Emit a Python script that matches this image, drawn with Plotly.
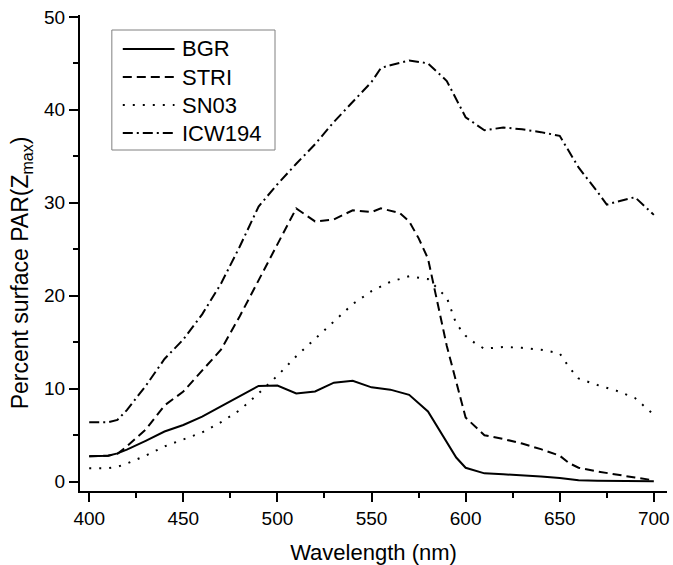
import plotly.graph_objects as go

# Wavelength grids (nm) and percent surface PAR at Z_max for each site
wl_bgr = [400, 410, 415, 420, 430, 440, 450, 460, 470, 480, 490, 500, 510, 520, 530, 540,
          550, 560, 570, 580, 590, 595, 600, 610, 620, 630, 640, 650, 660, 670, 680, 690, 700]
bgr = [2.75, 2.8, 3.05, 3.45, 4.4, 5.4, 6.1, 7.0, 8.1, 9.2, 10.3, 10.35, 9.5, 9.7, 10.65, 10.85,
       10.15, 9.9, 9.35, 7.55, 4.3, 2.6, 1.5, 0.9, 0.8, 0.7, 0.55, 0.4, 0.15, 0.1, 0.08, 0.05, 0.05]

wl_stri = [400, 410, 415, 420, 430, 440, 450, 460, 470, 480, 490, 500, 510, 520, 530, 540,
           550, 555, 565, 570, 575, 580, 590, 600, 605, 610, 620, 630, 640, 650, 655, 660,
           670, 680, 690, 700]
stri = [2.75, 2.8, 3.0, 3.8, 5.6, 8.2, 9.7, 11.9, 14.2, 17.8, 21.7, 25.6, 29.4, 28.0, 28.2, 29.2,
        29.0, 29.4, 28.9, 28.0, 26.2, 24.0, 14.6, 6.9, 5.9, 5.0, 4.6, 4.1, 3.5, 2.8, 2.0, 1.5,
        1.1, 0.75, 0.45, 0.15]

wl_sn03 = [400, 410, 415, 420, 430, 440, 450, 460, 470, 480, 490, 500, 510, 520, 530, 540,
           550, 560, 570, 580, 585, 590, 595, 600, 605, 610, 620, 630, 640, 650, 655, 660,
           670, 680, 690, 700]
sn03 = [1.45, 1.45, 1.6, 1.95, 2.8, 3.8, 4.55, 5.3, 6.4, 7.7, 9.5, 11.4, 13.5, 15.4, 17.3, 19.1,
        20.5, 21.5, 22.1, 21.8, 20.8, 19.8, 17.0, 15.7, 14.9, 14.3, 14.5, 14.4, 14.2, 13.8, 12.3, 11.1,
        10.4, 9.8, 9.0, 7.2]

wl_icw = [400, 410, 415, 420, 430, 440, 450, 460, 470, 480, 490, 500, 510, 520, 530, 540,
          550, 555, 560, 570, 580, 590, 600, 610, 620, 630, 640, 650, 660, 670, 675, 680,
          690, 700]
icw194 = [6.4, 6.4, 6.65, 7.7, 10.3, 13.2, 15.3, 18.0, 21.3, 25.3, 29.6, 32.0, 34.2, 36.3, 38.7, 40.8,
          43.0, 44.5, 44.8, 45.3, 45.0, 43.1, 39.2, 37.8, 38.1, 37.9, 37.6, 37.2, 33.8, 31.2, 29.8, 30.1,
          30.6, 28.7]

site_names = ["BGR", "STRI", "SN03", "ICW194"]
site_wl = [wl_bgr, wl_stri, wl_sn03, wl_icw]
site_par = [bgr, stri, sn03, icw194]
site_dash = ["solid", "9px,5px", "2px,8px", "10px,4px,2px,4px"]

x_ticks = [400, 450, 500, 550, 600, 650, 700]
y_ticks = [0, 10, 20, 30, 40, 50]

font_family = "Arial, Liberation Sans, sans-serif"

# Figure geometry (px) used to place the boxed key in paper coordinates
W, H = 673, 565
M_L, M_R, M_T, M_B = 80, 3, 15, 74
PW, PH = W - M_L - M_R, H - M_T - M_B


def px_to_paper(px, py):
    return (px - M_L) / PW, (H - M_B - py) / PH


fig = go.Figure()
for name, x, y, dash in zip(site_names, site_wl, site_par, site_dash):
    fig.add_trace(go.Scatter(
        x=x, y=y, name=name, mode="lines", showlegend=False,
        line=dict(color="black", width=2, dash=dash),
    ))

axis_common = dict(
    showline=True, linecolor="black", linewidth=2,
    ticks="outside", ticklen=9, tickwidth=2, tickcolor="black",
    showgrid=False, zeroline=False,
    tickfont=dict(family=font_family, size=19, color="black"),
)

fig.update_xaxes(
    range=[395.1, 707], tickvals=x_ticks,
    minor=dict(ticks="outside", ticklen=5, tickwidth=2, tickcolor="black", dtick=25, tick0=400),
    title=dict(text="Wavelength (nm)", font=dict(family=font_family, size=22, color="black"),
               standoff=18),
    **axis_common,
)
fig.update_yaxes(
    range=[-1, 50.2], tickvals=y_ticks,
    minor=dict(ticks="outside", ticklen=5, tickwidth=2, tickcolor="black", dtick=5, tick0=0),
    **axis_common,
)

# Y-axis title, set slightly below the plot centre
tx, ty = px_to_paper(21, 273)
annotations = [dict(
    text="Percent surface PAR(Z<sub>max</sub>)", textangle=-90,
    xref="paper", yref="paper", x=tx, y=ty, xanchor="center", yanchor="middle",
    showarrow=False, font=dict(family=font_family, size=23, color="black"),
)]

# Boxed key in the upper-left corner
x0, y0 = px_to_paper(112, 30)
x1, y1 = px_to_paper(276, 150)
shapes = [dict(type="rect", xref="paper", yref="paper", x0=x0, y0=y1, x1=x1, y1=y0,
               line=dict(color="#808080", width=1), fillcolor="white", layer="above")]
row_y = [49, 77, 105, 133]
for name, dash, ry in zip(site_names, site_dash, row_y):
    lx0, ly = px_to_paper(123, ry)
    lx1, _ = px_to_paper(175, ry)
    shapes.append(dict(type="line", xref="paper", yref="paper", x0=lx0, y0=ly, x1=lx1, y1=ly,
                       line=dict(color="black", width=2, dash=dash), layer="above"))
    txp, _ = px_to_paper(181, ry)
    annotations.append(dict(
        text=name, xref="paper", yref="paper", x=txp, y=ly, xanchor="left", yanchor="middle",
        showarrow=False, font=dict(family=font_family, size=22, color="black"),
    ))

fig.update_layout(
    width=W, height=H,
    margin=dict(l=M_L, r=M_R, t=M_T, b=M_B),
    plot_bgcolor="white", paper_bgcolor="white",
    showlegend=False,
    shapes=shapes,
    annotations=annotations,
)

fig.write_html("out.html")
